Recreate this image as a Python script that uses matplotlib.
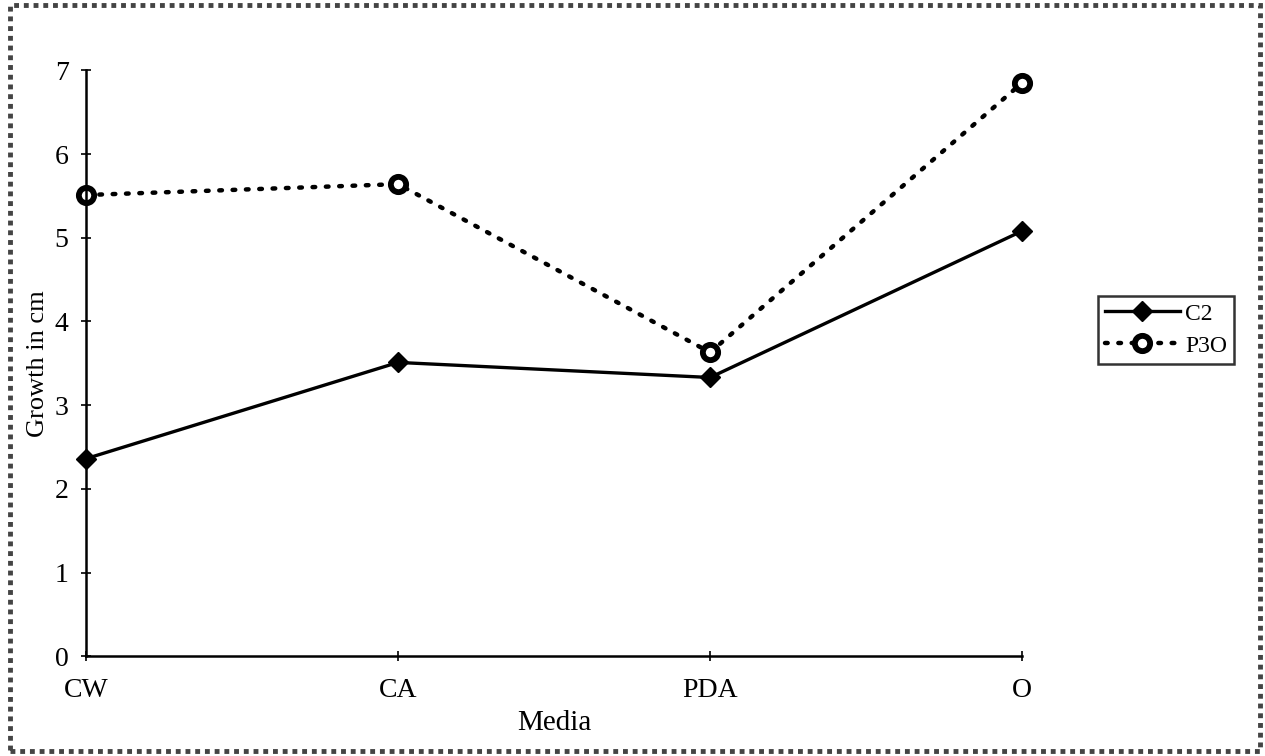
import matplotlib.pyplot as plt
from matplotlib.patches import Rectangle

plt.rcParams['font.family'] = ['Liberation Serif', 'DejaVu Serif']

media = ["CW", "CA", "PDA", "O"]
c2 = [2.36, 3.51, 3.33, 5.08]
p3o = [5.51, 5.64, 3.63, 6.85]

fig = plt.figure(figsize=(12.65, 7.56), dpi=100)
ax = fig.add_axes([0.068, 0.132, 0.740, 0.775])

x = range(len(media))
ax.plot(x, c2, color="black", linewidth=2.4, marker="D", markersize=10,
        markerfacecolor="black", markeredgecolor="black", label="C2", clip_on=False)
ax.plot(x, p3o, color="black", linewidth=3.2, linestyle=(0, (0.6, 2.4)),
        dash_capstyle="round", marker="o", markersize=11, markerfacecolor="white",
        markeredgecolor="black", markeredgewidth=4.2, label="P3O", clip_on=False)

ax.set_xlim(0, len(media) - 1)
ax.set_ylim(0, 7)
ax.set_xticks(list(x))
ax.set_xticklabels(media)
ax.set_yticks(range(8))

for side in ["top", "right"]:
    ax.spines[side].set_visible(False)
for side in ["left", "bottom"]:
    ax.spines[side].set_linewidth(1.8)

ax.tick_params(axis="both", direction="inout", length=7, width=1.2, labelsize=20)
ax.tick_params(axis="y", pad=9)
ax.tick_params(axis="x", pad=12)

ax.set_xlabel("Media", fontsize=21, labelpad=5)
ax.set_ylabel("Growth in cm", fontsize=19, labelpad=4)

leg = ax.legend(loc="center left", bbox_to_anchor=(1.068, 0.557), fontsize=17,
                frameon=True, fancybox=False, edgecolor="black", handlelength=3.2,
                borderpad=0.3, labelspacing=0.45, handletextpad=0.2)
leg.get_frame().set_linewidth(1.8)

# textured frame around the whole figure
fig.patches.append(Rectangle((0.008, 0.006), 0.988, 0.987, transform=fig.transFigure,
                             fill=False, edgecolor="#444444", linewidth=3.5,
                             linestyle=(0, (1, 1))))

fig.savefig("out.png", dpi=100)
